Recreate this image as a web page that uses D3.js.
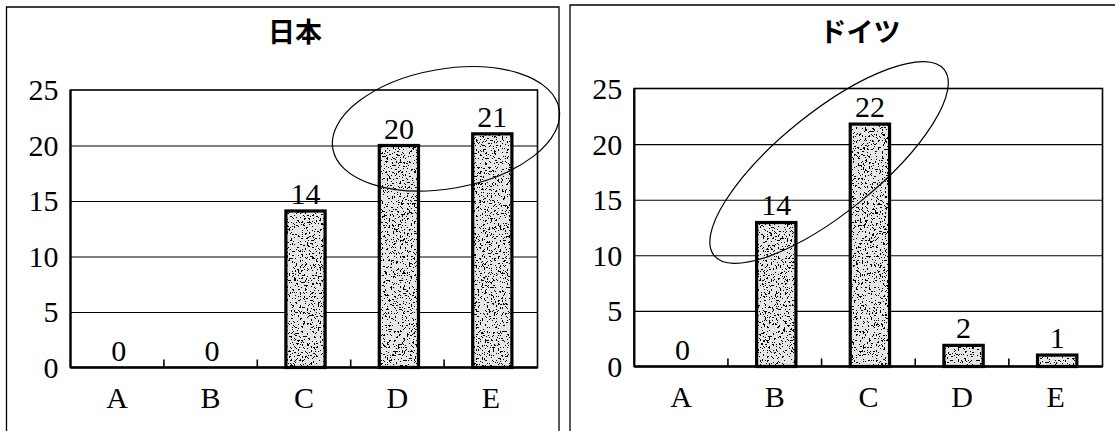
<!DOCTYPE html>
<html>
<head>
<meta charset="utf-8">
<script src="https://cdn.jsdelivr.net/npm/d3@7"></script>
<style>
  html, body { margin: 0; padding: 0; background: #fff; }
  svg { display: block; }
</style>
</head>
<body>
<svg id="chart" width="1115" height="431"></svg>
<script>
// ---- data ----
const categories = ["A", "B", "C", "D", "E"];
const yTicks = [0, 5, 10, 15, 20, 25];

const japanTitle = "日本";
const japanValues = [0, 0, 14.1, 20, 21.05];
const japanLabels = ["0", "0", "14", "20", "21"];
// highlight ring: centre in (band-index, value) units
const japanRing = { cx: 4.02, cy: 21.5, rx: 1.23, ry: 0.64, angle: -10 };

const germanyTitle = "ドイツ";
const germanyValues = [0, 12.95, 21.8, 1.9, 1.03];
const germanyLabels = ["0", "14", "22", "2", "1"];
const germanyRing = { cx: 2.08, cy: 18.35, rx: 1.58, ry: 0.535, angle: -39 };

// ---- drawing ----
const svg = d3.select("#chart");
const defs = svg.append("defs");
const f = defs.append("filter").attr("id", "stipple")
  .attr("x", 0).attr("y", 0).attr("width", 1).attr("height", 1)
  .attr("filterUnits", "objectBoundingBox")
  .attr("color-interpolation-filters", "sRGB");
f.append("feTurbulence").attr("type", "fractalNoise")
  .attr("baseFrequency", 0.55).attr("numOctaves", 3).attr("seed", 7).attr("result", "n");
f.append("feColorMatrix").attr("in", "n").attr("type", "matrix")
  .attr("values", "0 0 0 0 0  0 0 0 0 0  0 0 0 0 0  6 0 0 0 -3.25").attr("result", "a");
f.append("feComponentTransfer").attr("in", "a").attr("result", "d")
  .append("feFuncA").attr("type", "discrete").attr("tableValues", "0 1");
f.append("feComposite").attr("in", "d").attr("in2", "SourceAlpha").attr("operator", "in");

const serif = "'Liberation Serif', 'DejaVu Serif', serif";

function drawPanel(o) {
  const g = svg.append("g");
  // panel border
  g.append("path")
    .attr("d", `M${o.bx0},440 V${o.by} H${o.bx1}` + (o.bx1 < 1115 ? " V440" : ""))
    .attr("fill", "none").attr("stroke", "#000").attr("stroke-width", 1.3);

  const x = d3.scaleBand().domain(categories).range([o.left, o.right]).padding(0);
  const y = d3.scaleLinear().domain([0, 25]).range([o.bottom, o.top]);
  const step = x.step();

  // gridlines
  g.append("g")
    .attr("transform", `translate(${o.left},0)`)
    .call(d3.axisLeft(y).tickValues(yTicks.filter(d => d > 0 && d < 25)).tickSize(-(o.right - o.left)).tickFormat(""))
    .call(a => a.select(".domain").remove())
    .call(a => a.selectAll("line").attr("stroke", "#000").attr("stroke-width", 1.1));

  // frame
  g.append("rect").attr("x", o.left).attr("y", y(25))
    .attr("width", o.right - o.left).attr("height", y(0) - y(25))
    .attr("fill", "none").attr("stroke", "#000").attr("stroke-width", 1.6);
  g.append("line").attr("x1", o.left).attr("x2", o.left).attr("y1", y(25)).attr("y2", y(0))
    .attr("stroke", "#000").attr("stroke-width", 2.2);
  g.append("line").attr("x1", o.left).attr("x2", o.right).attr("y1", y(0)).attr("y2", y(0))
    .attr("stroke", "#000").attr("stroke-width", 2.6);

  // y tick labels
  g.append("g")
    .attr("transform", `translate(${o.left},0)`)
    .call(d3.axisLeft(y).tickValues(yTicks).tickSize(0).tickPadding(12))
    .call(a => a.select(".domain").remove())
    .call(a => a.selectAll("text")
      .attr("font-family", serif)
      .attr("font-size", 30).attr("fill", "#000").attr("dy", "0.33em"));

  // x ticks at band boundaries (inside, pointing up)
  g.selectAll(".xt").data(categories.slice(1)).join("line")
    .attr("x1", d => x(d)).attr("x2", d => x(d))
    .attr("y1", y(0)).attr("y2", y(0) - 8)
    .attr("stroke", "#000").attr("stroke-width", 1.6);

  // x labels
  g.append("g")
    .attr("transform", `translate(0,${y(0)})`)
    .call(d3.axisBottom(x).tickSize(0).tickPadding(19))
    .call(a => a.select(".domain").remove())
    .call(a => a.selectAll("text")
      .attr("font-family", serif)
      .attr("font-size", 30).attr("fill", "#000"));

  // bars
  const barW = step * 0.42;
  const bars = categories.map((c, i) => ({ c, v: o.values[i], label: o.labels[i] }));
  const bx = d => x(d.c) + (step - barW) / 2 + 1.5;
  const pos = bars.filter(d => d.v > 0);
  g.selectAll(".bar").data(pos).join("rect")
    .attr("x", bx).attr("y", d => y(d.v))
    .attr("width", barW).attr("height", d => y(0) - y(d.v))
    .attr("fill", "#e6e6e6");
  g.selectAll(".tex").data(pos).join("rect")
    .attr("x", bx).attr("y", d => y(d.v))
    .attr("width", barW).attr("height", d => y(0) - y(d.v))
    .attr("fill", "#000").attr("filter", "url(#stipple)");
  g.selectAll(".bo").data(pos).join("rect")
    .attr("x", bx).attr("y", d => y(d.v))
    .attr("width", barW).attr("height", d => y(0) - y(d.v))
    .attr("fill", "none").attr("stroke", "#000").attr("stroke-width", 3.2);

  // value labels
  g.selectAll(".vl").data(bars).join("text")
    .attr("x", d => x(d.c) + step / 2 + 1.5)
    .attr("y", d => y(d.v) - 7)
    .attr("text-anchor", "middle")
    .attr("font-family", serif)
    .attr("font-size", 30).attr("fill", "#000")
    .text(d => d.label);

  // title
  g.append("text")
    .attr("x", o.titleX).attr("y", 42)
    .attr("text-anchor", "middle")
    .attr("font-family", "'Noto Sans CJK JP', 'Noto Sans', sans-serif")
    .attr("font-weight", "bold").attr("font-size", 27).attr("fill", "#000")
    .text(o.title);

  // highlight ring
  const r = o.ring;
  const cx = o.left + r.cx * step, cy = y(r.cy);
  svg.append("ellipse")
    .attr("cx", 0).attr("cy", 0)
    .attr("rx", r.rx * step).attr("ry", r.ry * step)
    .attr("transform", `translate(${cx},${cy}) rotate(${r.angle})`)
    .attr("fill", "none").attr("stroke", "#000").attr("stroke-width", 1.2);
}

drawPanel({
  bx0: 6.5, bx1: 559, by: 7,
  left: 70.5, right: 537.5, top: 90, bottom: 367.5,
  values: japanValues, labels: japanLabels, title: japanTitle, titleX: 295,
  ring: japanRing
});
drawPanel({
  bx0: 570, bx1: 1130, by: 5,
  left: 634.3, right: 1102.5, top: 88.5, bottom: 366.5,
  values: germanyValues, labels: germanyLabels, title: germanyTitle, titleX: 860,
  ring: germanyRing
});
</script>
</body>
</html>
